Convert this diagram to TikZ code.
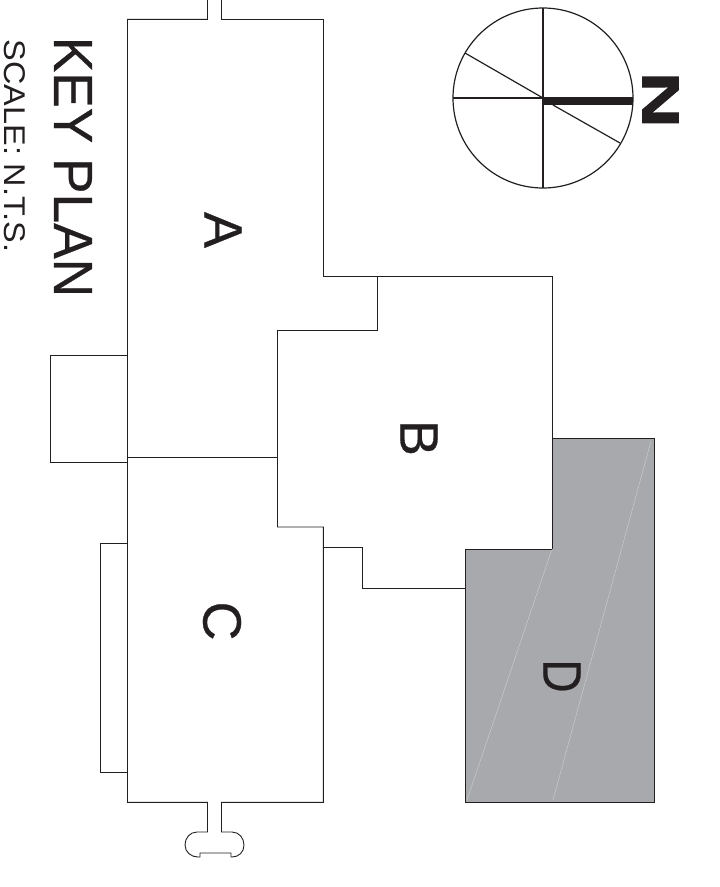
\documentclass[tikz,border=0pt]{standalone}
\usepackage{fontspec}
\usepackage{graphicx}
\setmainfont{Liberation Sans}
\newfontfamily\HeavyFont[FakeBold=0.5]{Liberation Sans}
\newfontfamily\NorthFont[FakeBold=1.5]{Liberation Sans Bold}
\definecolor{WingGray}{HTML}{A7A9AC}
\definecolor{InkBlack}{HTML}{231F20}
\tikzset{
    wall/.style={draw=InkBlack,line width=0.9pt,line join=miter},
    compass/.style={draw=InkBlack,line width=1.2pt},
    wing/.style={inner sep=0pt,rotate=-90,text=InkBlack,font=\HeavyFont\fontsize{54}{54}\selectfont},
}
\newcommand\WingLabel[4]{%
    \node[wing] (#1) at (#2,#3) {#4};
}
\begin{document}
\begin{tikzpicture}[x=1pt,y=-1pt]
    \useasboundingbox (0,0) rectangle (720,887);
    \begin{scope} % D
        \fill[WingGray] (552,438) -- (654,438) -- (654,802.4) -- (465,802.4) -- (465,549) -- (552,549) -- cycle;
        \draw[white,opacity=0.45,line width=0.4pt] (651,441) -- (553,800);
        \draw[white,opacity=0.45,line width=0.4pt] (552,549) -- (467,800);
        \draw[wall] (552,438) -- (654,438) -- (654,802.4) -- (465,802.4) -- (465,549) -- (552,549);
    \end{scope}
    \begin{scope} % A and C
        \draw[wall] (207.5,0) -- (207.5,19.4) -- (127.5,19.4) -- (127.5,802.4) -- (207.5,802.4) -- (207.5,832) -- (197,832)
            .. controls (190,832) and (185,838) .. (185,845)
            .. controls (185,852) and (191,857) .. (198,857)
            -- (200,857) -- (200,853) -- (231,853) -- (231,857) -- (232,857)
            .. controls (239,857) and (244,852) .. (244,845)
            .. controls (244,838) and (239,832) .. (232,832)
            -- (221.5,832) -- (221.5,802.4) -- (323.4,802.4) -- (323.4,527) -- (277,527);
        \draw[wall] (221.5,0) -- (221.5,19.4) -- (323.4,19.4) -- (323.4,276);
        \draw[wall] (127.5,457) -- (277,457);
        \draw[wall] (127.5,355) -- (50,355) -- (50,462) -- (127.5,462);
        \draw[wall] (127.5,543) -- (100,543) -- (100,772) -- (127.5,772);
    \end{scope}
    \begin{scope} % B
        \draw[wall] (323.4,276) -- (552,276) -- (552,549);
        \draw[wall] (377,276) -- (377,330) -- (277,330) -- (277,527);
        \draw[wall] (323.4,547) -- (362,547) -- (362,588) -- (465,588);
    \end{scope}
    \begin{scope} % north arrow
        \coordinate (Centre) at (543,98);
        \draw[compass] (Centre) circle (90);
        \draw[compass] (543,8) -- (543,188);
        \draw[compass] (453,98) -- (633,98);
        \draw[compass] (Centre) -- (465,53);
        \draw[compass] (553,105) -- (620,143);
        \fill[InkBlack] (543,98) rectangle (633,105);
    \end{scope}
    \WingLabel{LabelA}{223}{230}{A}
    \WingLabel{LabelB}{419}{438}{B}
    \WingLabel{LabelC}{222}{621}{C}
    \WingLabel{LabelD}{562}{676}{\scalebox{0.85}[1]{D}}
    \node[inner sep=0pt,rotate=-90,text=InkBlack] (North) at (660.5,100)
        {\NorthFont\fontsize{52}{52}\selectfont\scalebox{1.5}[1]{N}};
    \node[inner sep=0pt,rotate=-90,text=InkBlack] (KeyPlan) at (73,167)
        {\HeavyFont\fontsize{55}{55}\selectfont\scalebox{0.968}[1]{KEY PLAN}};
    \node[inner sep=0pt,rotate=-90,text=InkBlack] (Scale) at (14.5,146)
        {\fontsize{30}{30}\selectfont\scalebox{1.08}[1]{SCALE: N.T.S.}};
\end{tikzpicture}
\end{document}
